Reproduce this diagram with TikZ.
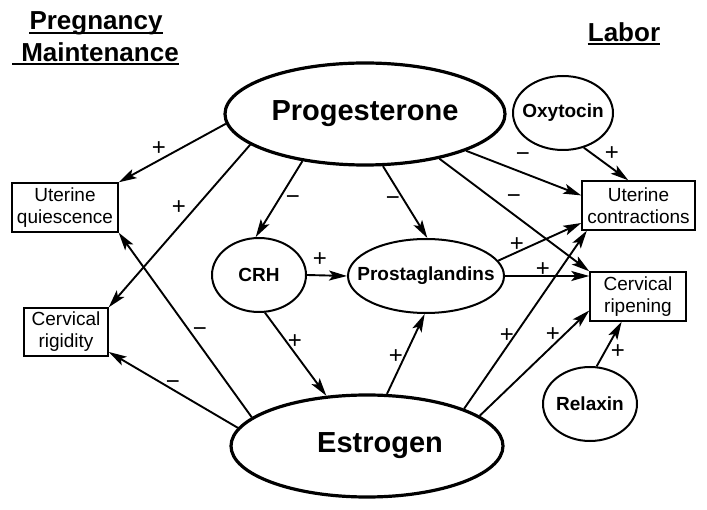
\documentclass[tikz,border=0pt]{standalone}
\usepackage{fontspec}
\setmainfont{Liberation Sans}
\usetikzlibrary{arrows.meta,shapes.geometric,calc}

\tikzset{
  gland/.style={ellipse, draw, line width=2pt, inner sep=0pt},
  big gland/.style={gland, line width=3.2pt},
  gland text/.style={font=\fontsize{19}{22}\selectfont\bfseries},
  big text/.style={font=\fontsize{29}{34}\selectfont\bfseries},
  effect/.style={rectangle, draw, line width=1.4pt, inner sep=0pt, align=center,
    font=\fontsize{19}{22}\selectfont},
  act/.style={line width=1.9pt, -{Stealth[length=18pt,width=10pt,inset=4pt]}},
  sign/.style={font=\fontsize{24}{24}\selectfont, inner sep=0pt},
  heading/.style={font=\fontsize{26}{30}\selectfont\bfseries, inner sep=0pt, anchor=base},
}

\begin{document}
\begin{tikzpicture}[x=1pt,y=-1pt]
\useasboundingbox (0,0) rectangle (707,510);

% headings
\node[heading] (preg) at (96,30) {Pregnancy};
\node[heading] (maint) at (100,62) {Maintenance};
\node[heading] (labor) at (624,42) {Labor};
\draw[line width=1.5pt] ($(preg.base west)+(0,3)$) -- ($(preg.base east)+(0,3)$);
\draw[line width=1.5pt] ($(maint.base west)+(-9,2)$) -- ($(maint.base east)+(0,2)$);
\draw[line width=1.5pt] ($(labor.base west)+(0,2)$) -- ($(labor.base east)+(0,2)$);

% hormones
\node[big gland, minimum width=280pt, minimum height=102pt,
  label={[big text]center:Progesterone}] (prog) at (365,114) {};
\node[big gland, minimum width=272pt, minimum height=102pt,
  label={[big text, xshift=13pt]center:Estrogen}] (estr) at (367,446) {};
\node[gland, minimum width=100pt, minimum height=74pt,
  label={[gland text]center:Oxytocin}] (oxy) at (563,113) {};
\node[gland, minimum width=94pt, minimum height=74pt,
  label={[gland text]center:CRH}] (crh) at (259,275) {};
\node[gland, minimum width=156pt, minimum height=74pt,
  label={[gland text]center:Prostaglandins}] (pg) at (426,276) {};
\node[gland, minimum width=94pt, minimum height=74pt,
  label={[gland text]center:Relaxin}] (rlx) at (590,404) {};

% effects
\node[effect, minimum width=106pt, minimum height=49pt] (uq) at (65,207.5) {Uterine\\quiescence};
\node[effect, minimum width=84pt, minimum height=48pt] (cr) at (66,332) {Cervical\\rigidity};
\node[effect, minimum width=113pt, minimum height=49pt] (uc) at (638.5,205.5) {Uterine\\contractions};
\node[effect, minimum width=96pt, minimum height=49pt] (crp) at (638,296.5) {Cervical\\ripening};

% actions
\draw[act] (prog.184) -- (uq.north east);
\draw[act] (prog.195) -- (cr.north east);
\draw[act] (prog.217) -- (crh.95);
\draw[act] (prog.289) -- (pg.88);
\draw[act] (prog.340) -- (uc.170);
\draw[act] (prog.329) -- (crp.north west);
\draw[act] (oxy.301) -- (uc.112);
\draw[act] (crh.east) -- (pg.west);
\draw[act] (crh.279) -- (estr.129);
\draw[act] (estr.69) -- (pg.268);
\draw[act] (pg.12) -- (uc.197);
\draw[act] (pg.east) -- (pg.east -| crp.west);
\draw[act] (estr.21) -- (uc.206);
\draw[act] (estr.15) -- (crp.196);
\draw[act] (rlx.80) -- (crp.237);
\draw[act] (estr.166) -- (uq.south east);
\draw[act] (estr.172) -- (cr.-25);

% signs
\foreach \x/\y/\s [count=\i] in {159/149/+, 179/208/+, 293/200/−, 393/201/−,
    523/157/−, 514/199/−, 612/154/+, 320/260/+, 295/342/+, 396/357/+,
    517/245/+, 543/270/+, 507/336/+, 553/335/+, 618/352/+, 200/332/−, 173/385/−}
  \node[sign] (s\i) at (\x,\y) {\s};
\end{tikzpicture}
\end{document}
